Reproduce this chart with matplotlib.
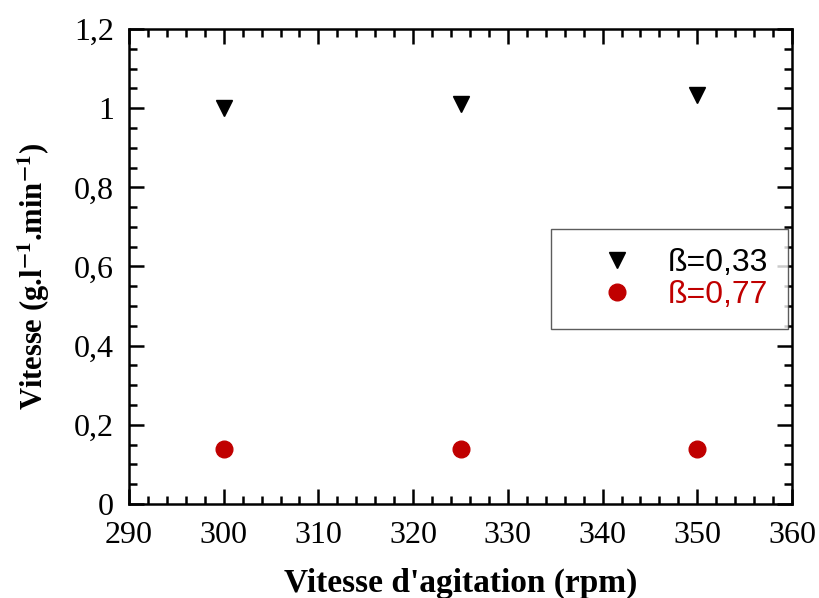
import matplotlib
matplotlib.use('Agg')
import matplotlib.pyplot as plt
from matplotlib.ticker import MultipleLocator, FuncFormatter

# data
rpm = [300, 325, 350]
v_033 = [1.0, 1.01, 1.033]
v_077 = [0.139, 0.14, 0.14]
labels = ['ß=0,33', 'ß=0,77']
colors = ['black', '#c00000']

plt.rcParams['font.family'] = 'Liberation Serif'
plt.rcParams['mathtext.fontset'] = 'stix'

fig = plt.figure(figsize=(8.19, 5.98), dpi=100)
ax = fig.add_axes([129/819, 1-504/598, (792-129)/819, (504-29)/598])

ax.plot(rpm, v_033, linestyle='none', marker='v', markersize=12, color=colors[0], label=labels[0])
ax.plot(rpm, v_077, linestyle='none', marker='o', markersize=12, color=colors[1], label=labels[1])

ax.set_xlim(290, 360)
ax.set_ylim(0, 1.2)
ax.xaxis.set_major_locator(MultipleLocator(10))
ax.xaxis.set_minor_locator(MultipleLocator(2))
ax.yaxis.set_major_locator(MultipleLocator(0.2))
ax.yaxis.set_minor_locator(MultipleLocator(0.05))

def comma_fmt(y, pos):
    s = '%g' % round(y, 2)
    return s.replace('.', ',')

ax.yaxis.set_major_formatter(FuncFormatter(comma_fmt))

ax.tick_params(which='both', direction='in', top=True, right=True, width=1.8, labelsize=23)
ax.tick_params(which='major', length=11)
ax.tick_params(which='minor', length=5.5)
ax.tick_params(axis='x', pad=12)
ax.tick_params(axis='y', pad=11)
for sp in ax.spines.values():
    sp.set_linewidth(1.8)

ax.set_xlabel("Vitesse d'agitation (rpm)", fontsize=24, fontweight='bold', labelpad=13)
ax.set_ylabel('Vitesse (g.l$^{\\mathbf{-1}}$.min$^{\\mathbf{-1}}$)', fontsize=22, fontweight='bold')
ax.yaxis.set_label_coords(-0.116, 0.478)

leg = ax.legend(loc='upper left', bbox_to_anchor=(551/819, 1-229/598), bbox_transform=fig.transFigure,
                borderaxespad=0, frameon=True, fancybox=False, edgecolor='#333333',
                prop={'family': 'Liberation Sans', 'size': 23},
                handlelength=2.94, handletextpad=0.13, borderpad=0.6, labelspacing=0.05,
                markerscale=1.0)
leg.get_frame().set_linewidth(1.0)
for t, c in zip(leg.get_texts(), colors):
    t.set_color(c)

fig.savefig('out.png', dpi=100)
